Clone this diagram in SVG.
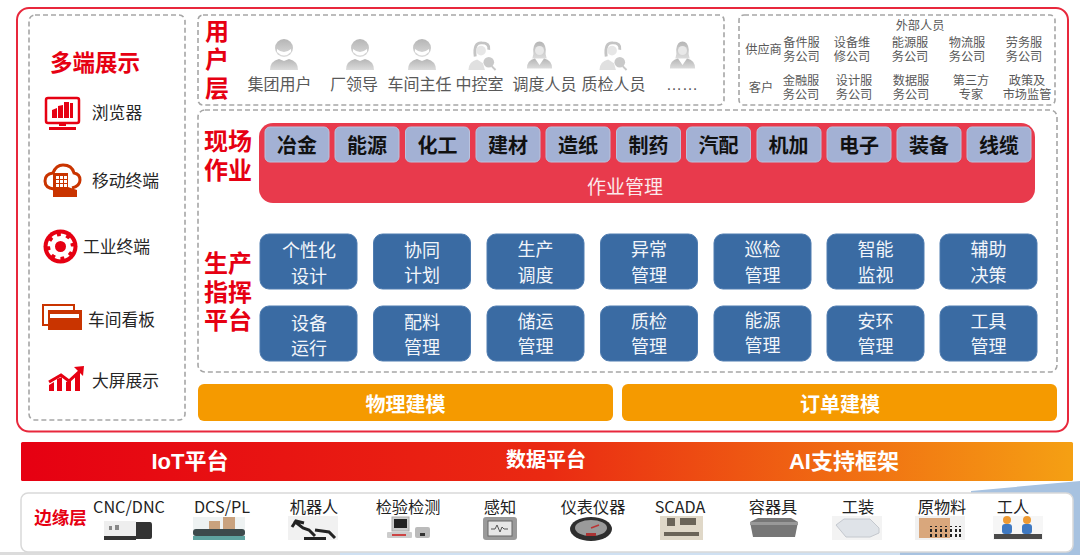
<svg xmlns="http://www.w3.org/2000/svg" width="1080" height="555" viewBox="0 0 1080 555">
<style>
text{font-family:"Liberation Sans","Noto Sans CJK SC",sans-serif;text-anchor:middle;dominant-baseline:central}
.dash{fill:#fff;stroke:#a6a6a6;stroke-width:1.6;stroke-dasharray:5 3}
.title{fill:#e60012;font-weight:700;font-size:24px}
.side{fill:#262626;font-size:16.8px}
.user{fill:#595959;font-size:16px}
.ext{fill:#595959;font-size:12.2px}
.chiprect{fill:#a3b1d4;stroke:#b9c3de;stroke-width:1}
.chip{fill:#111;font-weight:700;font-size:20px}
.blue{fill:#3a6ba3;stroke:#4f7cb0;stroke-width:1}
.bt{fill:#f2f5fa;font-size:18px}
.org{fill:#f59a00}
.ot{fill:#fff;font-weight:700;font-size:20px}
.bar{fill:#fff;font-weight:700;font-size:22px}
.edge{fill:#222;font-size:16.2px;font-family:"Noto Sans CJK SC","Noto Sans",sans-serif}
.red{fill:#e60012}
.rust{fill:#c93400}
.p{fill:url(#pg)}
</style>
<defs>
<linearGradient id="bg" x1="0" x2="1" y1="0" y2="0"><stop offset="0" stop-color="#e60012"/><stop offset=".5" stop-color="#ea2a12"/><stop offset="1" stop-color="#f5a013"/></linearGradient>
<linearGradient id="pg" x1="0" x2="0" y1="0" y2="1"><stop offset="0" stop-color="#b5b5b5"/><stop offset="1" stop-color="#dcdcdc"/></linearGradient>
<symbol id="man" viewBox="0 0 30 32" overflow="visible"><circle class="p" cx="15" cy="9" r="9"/><path fill="#fff" d="M8 10q7 6 14 0l0 3q-7 7-14 0z"/><path class="p" d="M1 31q0-9 9-11l5 2 5-2q9 2 9 11z"/></symbol>
<symbol id="woman" viewBox="0 0 30 32" overflow="visible"><path class="p" d="M7 20q2-4 1-10q1-9 7-9t7 9q-1 6 1 10z"/><circle fill="#e8e8e8" cx="15" cy="11" r="5"/><path class="p" d="M1 31q0-9 9-11l5 7 5-7q9 2 9 11z"/></symbol>
<symbol id="search" viewBox="0 0 30 32" overflow="visible"><path fill="none" stroke="#c4c4c4" stroke-width="3" d="M8 17q-2-15 7-14q8 0 7 7"/><circle fill="#e6e6e6" cx="14" cy="11" r="5"/><path fill="#e0e0e0" d="M1 31q0-9 9-11l6 4 2 7z"/><circle fill="#c9c9c9" cx="22" cy="23" r="5.5"/><path stroke="#c9c9c9" stroke-width="2" d="M25 27l4 4"/></symbol>
</defs>
<rect width="1080" height="555" fill="#fff"/>
<path fill="#a7c2e0" d="M971 491L1080 481V555H880V552H971z"/>
<rect x="0" y="552" width="880" height="3" fill="#dcdcdc"/>
<rect x="340" y="552" width="560" height="3" fill="#cfe0f2"/>

<g id="platform"><rect x="17" y="8" width="1051" height="423.500" rx="12" fill="#fff" stroke="#e8283c" stroke-width="2"/></g>

<g id="multi-terminal">
<rect class="dash" x="29" y="15" width="156" height="405" rx="6"/>
<text x="95" y="63" font-weight="700" font-size="22.500" style="fill:#e60012">多端展示</text>
<g id="browser">
<rect x="46" y="98" width="33" height="25" rx="2" fill="#fff" stroke="#e60012" stroke-width="2.500"/>
<path class="red" d="M52 118v-8l5-2v10zM58 118v-12l5-1v13zM64 118v-16h5v16zM70 118v-15h3v15z"/>
<path class="red" d="M59 123h7v3h-7zM49 127h27v3h-27z"/>
<text class="side" x="117" y="113">浏览器</text>
</g>
<g id="mobile">
<path fill="none" stroke="#c93400" stroke-width="3" d="M54 189q-9-1-9-8t8-8q3-8 10-8 9 0 11 8 6 1 6 7t-8 8"/>
<path class="rust" d="M53 173h15v14l9 3v7h-24z"/>
<path fill="#fff" d="M56 176h3v3h-3zM60 176h3v3h-3zM64 176h3v3h-3zM56 180h3v3h-3zM60 180h3v3h-3zM64 180h3v3h-3zM56 184h3v3h-3zM60 184h3v3h-3zM64 184h3v3h-3z"/>
<text class="side" x="125.500" y="181">移动终端</text>
</g>
<g id="industrial">
<circle class="red" cx="60.500" cy="246.500" r="17"/>
<circle cx="60.500" cy="246.500" r="8" fill="none" stroke="#fff" stroke-width="5"/>
<circle cx="60.500" cy="246.500" r="11" fill="none" stroke="#fff" stroke-width="4" stroke-dasharray="5 3.640"/>
<text class="side" x="116.500" y="247">工业终端</text>
</g>
<g id="kanban">
<path fill="none" stroke="#c93400" stroke-width="2" d="M48 325h-5v-20h31v5"/>
<rect class="rust" x="48" y="310" width="34" height="20"/>
<rect x="50" y="314" width="29" height="4" fill="#fff"/>
<text class="side" x="121.500" y="320">车间看板</text>
</g>
<g id="screen">
<path class="red" d="M49 391v-6l5-3v9zM57 391v-12l5-2v14zM66 391v-9l5-2v11zM75 391v-16l5-3v19z"/>
<path fill="none" stroke="#e60012" stroke-width="3" d="M49 382l12-7 8 6 13-12"/>
<path class="red" d="M74 367l10-1-1 10z"/>
<text class="side" x="125.500" y="381">大屏展示</text>
</g>
</g>

<g id="user-layer">
<rect class="dash" x="198" y="15" width="526" height="90" rx="5"/>
<text class="title" x="217" y="31">用</text><text class="title" x="217" y="59">户</text><text class="title" x="217" y="88">层</text>
<g id="u1"><use href="#man" x="269" y="39" width="30" height="32"/><text class="user" x="279.500" y="84">集团用户</text></g>
<g id="u2"><use href="#man" x="345" y="39" width="30" height="32"/><text class="user" x="354" y="84">厂领导</text></g>
<g id="u3"><use href="#man" x="407" y="39" width="30" height="32"/><text class="user" x="419.500" y="84">车间主任</text></g>
<g id="u4"><use href="#search" x="467" y="40" width="30" height="31"/><text class="user" x="479.500" y="84">中控室</text></g>
<g id="u5"><use href="#woman" x="526" y="39" width="27" height="32"/><text class="user" x="544.500" y="84">调度人员</text></g>
<g id="u6"><use href="#search" x="598" y="40" width="30" height="31"/><text class="user" x="613.500" y="84">质检人员</text></g>
<g id="u7"><use href="#woman" x="669" y="39" width="27" height="32"/><text class="user" x="682" y="84">……</text></g>
</g>

<g id="external">
<rect class="dash" x="739" y="15" width="316" height="90" rx="5"/>
<text class="ext" x="920" y="26">外部人员</text>
<text class="ext" x="763.500" y="50">供应商</text><text class="ext" x="761" y="88">客户</text>
<text class="ext" x="801.500" y="43">备件服</text><text class="ext" x="801.500" y="57">务公司</text>
<text class="ext" x="852" y="43">设备维</text><text class="ext" x="852" y="57">修公司</text>
<text class="ext" x="910" y="43">能源服</text><text class="ext" x="910" y="57">务公司</text>
<text class="ext" x="967" y="43">物流服</text><text class="ext" x="967" y="57">务公司</text>
<text class="ext" x="1024" y="43">劳务服</text><text class="ext" x="1024" y="57">务公司</text>
<text class="ext" x="801" y="81">金融服</text><text class="ext" x="801" y="95">务公司</text>
<text class="ext" x="854" y="81">设计服</text><text class="ext" x="854" y="95">务公司</text>
<text class="ext" x="911" y="81">数据服</text><text class="ext" x="911" y="95">务公司</text>
<text class="ext" x="971" y="81">第三方</text><text class="ext" x="971" y="95">专家</text>
<text class="ext" x="1027" y="81">政策及</text><text class="ext" x="1027" y="95">市场监管</text>
</g>

<g id="field-ops">
<rect class="dash" x="198" y="110" width="859" height="262" rx="7"/>
<text class="title" x="228" y="141">现场</text><text class="title" x="228" y="170">作业</text>
<rect x="259" y="123" width="776" height="80" rx="14" fill="#e83a4c"/>
<text x="625" y="187" font-size="19px" style="fill:#fbe9eb">作业管理</text>
<g id="c1"><rect class="chiprect" x="265" y="127" width="64" height="35" rx="5"/><text class="chip" x="297" y="146">冶金</text></g>
<g id="c2"><rect class="chiprect" x="335" y="127" width="64" height="35" rx="5"/><text class="chip" x="367" y="146">能源</text></g>
<g id="c3"><rect class="chiprect" x="405.500" y="127" width="64" height="35" rx="5"/><text class="chip" x="437.500" y="146">化工</text></g>
<g id="c4"><rect class="chiprect" x="476" y="127" width="64" height="35" rx="5"/><text class="chip" x="508" y="146">建材</text></g>
<g id="c5"><rect class="chiprect" x="546" y="127" width="64" height="35" rx="5"/><text class="chip" x="578" y="146">造纸</text></g>
<g id="c6"><rect class="chiprect" x="616.500" y="127" width="64" height="35" rx="5"/><text class="chip" x="648.500" y="146">制药</text></g>
<g id="c7"><rect class="chiprect" x="686.500" y="127" width="64" height="35" rx="5"/><text class="chip" x="718.500" y="146">汽配</text></g>
<g id="c8"><rect class="chiprect" x="757" y="127" width="64" height="35" rx="5"/><text class="chip" x="788.500" y="146">机加</text></g>
<g id="c9"><rect class="chiprect" x="827" y="127" width="64" height="35" rx="5"/><text class="chip" x="859" y="146">电子</text></g>
<g id="c10"><rect class="chiprect" x="897" y="127" width="64" height="35" rx="5"/><text class="chip" x="929" y="146">装备</text></g>
<g id="c11"><rect class="chiprect" x="967" y="127" width="64" height="35" rx="5"/><text class="chip" x="999" y="146">线缆</text></g>
</g>

<g id="production">
<text class="title" x="228" y="263">生产</text><text class="title" x="228" y="292">指挥</text><text class="title" x="228" y="320">平台</text>
<g id="b1"><rect class="blue" x="260" y="234" width="97" height="55" rx="9"/><text class="bt" x="309" y="251">个性化</text><text class="bt" x="309" y="277">设计</text></g>
<g id="b2"><rect class="blue" x="373.500" y="234" width="97" height="55" rx="9"/><text class="bt" x="422" y="251">协同</text><text class="bt" x="422" y="276">计划</text></g>
<g id="b3"><rect class="blue" x="487" y="234" width="97" height="55" rx="9"/><text class="bt" x="535.500" y="250">生产</text><text class="bt" x="535.500" y="276">调度</text></g>
<g id="b4"><rect class="blue" x="600.500" y="234" width="97" height="55" rx="9"/><text class="bt" x="649" y="250">异常</text><text class="bt" x="649" y="276">管理</text></g>
<g id="b5"><rect class="blue" x="714" y="234" width="97" height="55" rx="9"/><text class="bt" x="762.500" y="250">巡检</text><text class="bt" x="762.500" y="276">管理</text></g>
<g id="b6"><rect class="blue" x="827" y="234" width="97" height="55" rx="9"/><text class="bt" x="875.500" y="250">智能</text><text class="bt" x="875.500" y="276">监视</text></g>
<g id="b7"><rect class="blue" x="940" y="234" width="97" height="55" rx="9"/><text class="bt" x="988.500" y="250">辅助</text><text class="bt" x="988.500" y="276">决策</text></g>
<g id="b8"><rect class="blue" x="260" y="306" width="97" height="55" rx="9"/><text class="bt" x="309" y="324">设备</text><text class="bt" x="309" y="349">运行</text></g>
<g id="b9"><rect class="blue" x="373.500" y="306" width="97" height="55" rx="9"/><text class="bt" x="422" y="323">配料</text><text class="bt" x="422" y="348">管理</text></g>
<g id="b10"><rect class="blue" x="487" y="306" width="97" height="55" rx="9"/><text class="bt" x="535.500" y="322">储运</text><text class="bt" x="535.500" y="347">管理</text></g>
<g id="b11"><rect class="blue" x="600.500" y="306" width="97" height="55" rx="9"/><text class="bt" x="649" y="322">质检</text><text class="bt" x="649" y="347">管理</text></g>
<g id="b12"><rect class="blue" x="714" y="306" width="97" height="55" rx="9"/><text class="bt" x="762.500" y="321">能源</text><text class="bt" x="762.500" y="346">管理</text></g>
<g id="b13"><rect class="blue" x="827" y="306" width="97" height="55" rx="9"/><text class="bt" x="875.500" y="322">安环</text><text class="bt" x="875.500" y="347">管理</text></g>
<g id="b14"><rect class="blue" x="940" y="306" width="97" height="55" rx="9"/><text class="bt" x="988.500" y="322">工具</text><text class="bt" x="988.500" y="347">管理</text></g>
</g>

<g id="phys-model"><rect class="org" x="198" y="384" width="415" height="37" rx="6"/><text class="ot" x="405.500" y="405">物理建模</text></g>
<g id="order-model"><rect class="org" x="622" y="384" width="435" height="37" rx="6"/><text class="ot" x="840" y="405">订单建模</text></g>

<g id="platform-bar">
<rect x="21" y="442" width="1052" height="39" rx="1.500" fill="url(#bg)"/>
<text class="bar" x="190" y="461">IoT平台</text>
<text class="bar" x="546" y="460" style="font-size:20px">数据平台</text>
<text class="bar" x="844" y="461">AI支持框架</text>
</g>

<g id="edge-layer">
<rect x="21" y="493" width="1052" height="59" rx="7" fill="#fff" stroke="#d9d9d9" stroke-width="1.500"/>
<text x="60.500" y="518" font-weight="700" font-size="17.500px" style="fill:#e60012">边缘层</text>
<g id="e1"><path fill="#eeeeee" d="M104 521h32v15h-32z"/><path fill="#333" d="M136 522h14q2 0 2 3v12q0 2-2 2h-14zM104 536h32v4h-32z"/><path fill="#888" d="M109 526h3v4h-3zM115 525h4v5h-4z"/><text class="edge" x="129" y="506">CNC/DNC</text></g>
<g id="e2"><rect x="193" y="517" width="52" height="23" fill="#eef2f2"/><rect x="209" y="521" width="11" height="8" fill="#c9a27e"/><rect x="223" y="517" width="12" height="12" fill="#c9a27e"/><rect x="193" y="529" width="52" height="7" rx="3" fill="#3d4a4c"/><rect x="193" y="536" width="52" height="4" fill="#5fa3a0"/><text class="edge" x="222" y="506">DCS/PL</text></g>
<g id="e3"><rect x="288" y="516" width="50" height="24" fill="#f1f1f1"/><path fill="none" stroke="#222" stroke-width="3" d="M294 521l9 7 6 2 6 6M315 530l14 2 6 6M292 527l4-6 8 2"/><path fill="#222" d="M304 537h22v3h-22z"/><text class="edge" x="314" y="506">机器人</text></g>
<g id="e4"><rect x="392" y="517" width="17" height="14" fill="#ccc" stroke="#aaa"/><rect x="394" y="519" width="13" height="9" fill="#222"/><rect x="387" y="532" width="25" height="6" rx="1" fill="#ccc"/><path fill="#c44" d="M392 534h14v2h-14z"/><rect x="415" y="527" width="15" height="11" rx="2" fill="#bbb"/><rect x="420" y="533" width="5" height="3" fill="#333"/><text class="edge" x="408" y="506">检验检测</text></g>
<g id="e5"><rect x="483" y="517" width="34" height="23" rx="3" fill="#9a9a9a"/><rect x="488" y="521" width="24" height="15" fill="#e6e6e6" stroke="#666"/><path fill="none" stroke="#555" d="M491 529h4l2-4 3 7 2-5 2 2h4"/><text class="edge" x="500" y="506">感知</text></g>
<g id="e6"><ellipse cx="591" cy="529" rx="21" ry="12" fill="#2e2e2e"/><ellipse cx="591" cy="528" rx="16" ry="8" fill="#9a9a9a"/><path stroke="#b33" stroke-width="1.500" d="M591 528l8-3"/><rect x="586" y="533" width="10" height="3" fill="#a33"/><text class="edge" x="593" y="506">仪表仪器</text></g>
<g id="e7"><rect x="660" y="516" width="43" height="24" fill="#e0d8c8"/><path fill="#6b6458" d="M667 518h8v8h-8zM680 518h16v7h-16zM664 532h35v4h-35z"/><text class="edge" x="680" y="506">SCADA</text></g>
<g id="e8"><path fill="#777" d="M750 522l8-4h33l7 4-3 15h-42z"/><path fill="#999" d="M750 522h48v3h-48z"/><text class="edge" x="773" y="506">容器具</text></g>
<g id="e9"><rect x="832" y="516" width="50" height="24" fill="#f3f3f3"/><path fill="#dfe3e8" stroke="#c4c8ce" d="M836 525l8-6h26l9 9v5l-9 4h-24z"/><text class="edge" x="858" y="506">工装</text></g>
<g id="e10"><rect x="915" y="516" width="50" height="24" fill="#f1f1f1"/><rect x="919" y="518" width="31" height="20" fill="#d9a77c"/><path stroke="#222" stroke-width="2" stroke-dasharray="3 2" fill="none" d="M931 537v-11M936 537v-11M941 537v-11M946 537v-11M951 537v-11M956 537v-11M960 537v-11"/><text class="edge" x="942" y="506">原物料</text></g>
<g id="e11"><rect x="993" y="516" width="50" height="24" fill="#f6f6f6"/><path fill="#4a4a4a" d="M994 534h48v5h-48z"/><circle cx="1007" cy="520" r="4" fill="#ee9a33"/><circle cx="1027" cy="520" r="4" fill="#ee9a33"/><rect x="1002" y="524" width="10" height="10" rx="3" fill="#3f79c2"/><rect x="1022" y="524" width="10" height="10" rx="3" fill="#3f79c2"/><text class="edge" x="1013" y="506">工人</text></g>
</g>
</svg>
